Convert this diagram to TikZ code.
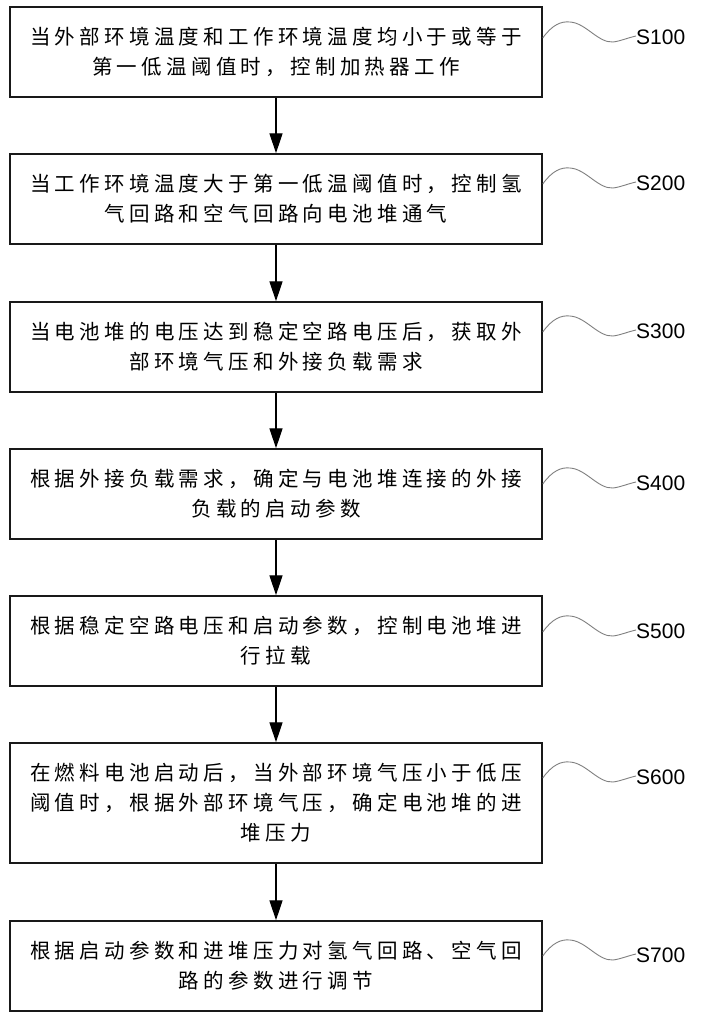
\documentclass[tikz,border=0pt]{standalone}
\usepackage{fontspec}
\usetikzlibrary{arrows.meta}
\newfontfamily\cjk{Noto Sans CJK SC}[LetterSpace=21]
\newfontfamily\labfont{Liberation Sans}
\newcommand\wavefrom[3]{% box, label node, label y
  \draw[wavy] (#1.east |- 0,#3+1) .. controls (552,#3-12) and (561,#3-16) .. (570,#3-15)
    .. controls (586,#3-14) and (598,#3+6) .. (613,#3+5)
    .. controls (621,#3+4) and (627,#3+1) .. (#2.west |- 0,#3-1);}
\begin{document}
\begin{tikzpicture}[x=1pt,y=-1pt,
  stepbox/.style={draw=black!90,line width=1.5pt,rectangle,minimum width=532pt,
    minimum height=90pt,inner sep=0pt,align=center,
    font=\cjk\fontsize{20.5}{30}\selectfont},
  tall/.style={minimum height=120pt},
  steplab/.style={anchor=west,inner sep=0pt,font=\labfont\fontsize{21}{21}\selectfont},
  arr/.style={line width=1.4pt,draw=black,-{Triangle[width=13pt,length=20pt]}},
  wavy/.style={draw=black!50,line width=0.9pt}]
\useasboundingbox (0,0) rectangle (701,1020);
\fill[white] (0,0) rectangle (701,1020);

\node[stepbox] (b1) at (276,52) {当外部环境温度和工作环境温度均小于或等于\\第一低温阈值时，控制加热器工作};
\node[stepbox] (b2) at (276,199) {当工作环境温度大于第一低温阈值时，控制氢\\气回路和空气回路向电池堆通气};
\node[stepbox] (b3) at (276,347) {当电池堆的电压达到稳定空路电压后，获取外\\部环境气压和外接负载需求};
\node[stepbox] (b4) at (276,494) {根据外接负载需求，确定与电池堆连接的外接\\负载的启动参数};
\node[stepbox] (b5) at (276,641) {根据稳定空路电压和启动参数，控制电池堆进\\行拉载};
\node[stepbox,tall] (b6) at (276,803) {在燃料电池启动后，当外部环境气压小于低压\\阈值时，根据外部环境气压，确定电池堆的进\\堆压力};
\node[stepbox] (b7) at (276,966) {根据启动参数和进堆压力对氢气回路、空气回\\路的参数进行调节};

\node[steplab] (s1) at (636,37) {S100};
\node[steplab] (s2) at (636,183) {S200};
\node[steplab] (s3) at (636,331) {S300};
\node[steplab] (s4) at (636,483) {S400};
\node[steplab] (s5) at (636,631) {S500};
\node[steplab] (s6) at (636,777) {S600};
\node[steplab] (s7) at (636,955) {S700};

\draw[arr] (b1) -- (b2);
\draw[arr] (b2) -- (b3);
\draw[arr] (b3) -- (b4);
\draw[arr] (b4) -- (b5);
\draw[arr] (b5) -- (b6);
\draw[arr] (b6) -- (b7);

\wavefrom{b1}{s1}{37}
\wavefrom{b2}{s2}{183}
\wavefrom{b3}{s3}{331}
\wavefrom{b4}{s4}{483}
\wavefrom{b5}{s5}{631}
\wavefrom{b6}{s6}{777}
\wavefrom{b7}{s7}{955}
\end{tikzpicture}
\end{document}
